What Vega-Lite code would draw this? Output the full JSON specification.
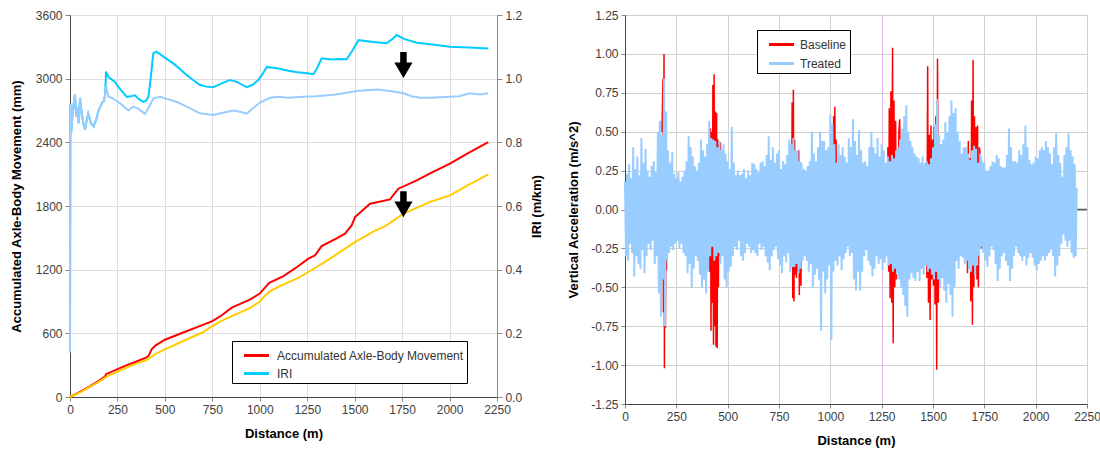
{
"$schema": "https://vega.github.io/schema/vega-lite/v6.json",
"background": "white",
"padding": {"left": 10, "top": 8, "right": 0, "bottom": 0},
"spacing": 23,
"config": {
  "font": "Liberation Sans",
  "view": {"stroke": null},
  "axis": {"labelFont": "Liberation Sans", "labelFontSize": 12, "labelColor": "#404040", "titleFont": "Liberation Sans", "titleFontSize": 13, "titleFontWeight": "bold", "titleColor": "#000", "gridColor": "#e2dce2", "tickColor": "#888", "domainColor": "#444", "tickSize": 4, "labelPadding": 3, "labelFlush": false, "labelOverlap": false}
},
"resolve": {"scale": {"color": "independent"}, "legend": {"color": "independent"}},
"datasets": {
  "accRed": [{"d":0,"v":0},{"d":50,"v":45},{"d":100,"v":95},{"d":150,"v":150},{"d":185,"v":195},{"d":190,"v":215},{"d":250,"v":262},{"d":300,"v":300},{"d":350,"v":335},{"d":400,"v":370},{"d":415,"v":390},{"d":430,"v":450},{"d":450,"v":485},{"d":500,"v":540},{"d":600,"v":610},{"d":700,"v":680},{"d":750,"v":715},{"d":800,"v":770},{"d":850,"v":840},{"d":900,"v":880},{"d":950,"v":920},{"d":1000,"v":975},{"d":1050,"v":1075},{"d":1125,"v":1140},{"d":1200,"v":1230},{"d":1256,"v":1304},{"d":1291,"v":1335},{"d":1326,"v":1422},{"d":1400,"v":1490},{"d":1449,"v":1539},{"d":1484,"v":1617},{"d":1502,"v":1696},{"d":1581,"v":1822},{"d":1686,"v":1862},{"d":1730,"v":1963},{"d":1827,"v":2041},{"d":1900,"v":2110},{"d":2002,"v":2199},{"d":2100,"v":2300},{"d":2204,"v":2402}],
  "accYel": [{"d":0,"v":0},{"d":50,"v":40},{"d":100,"v":90},{"d":150,"v":140},{"d":200,"v":200},{"d":250,"v":236},{"d":300,"v":280},{"d":350,"v":315},{"d":400,"v":346},{"d":450,"v":405},{"d":500,"v":449},{"d":600,"v":530},{"d":700,"v":610},{"d":750,"v":669},{"d":800,"v":720},{"d":900,"v":800},{"d":950,"v":840},{"d":1000,"v":900},{"d":1030,"v":960},{"d":1054,"v":995},{"d":1100,"v":1040},{"d":1200,"v":1120},{"d":1256,"v":1178},{"d":1350,"v":1280},{"d":1400,"v":1340},{"d":1502,"v":1460},{"d":1600,"v":1560},{"d":1668,"v":1617},{"d":1757,"v":1728},{"d":1836,"v":1790},{"d":1900,"v":1840},{"d":2002,"v":1900},{"d":2100,"v":2000},{"d":2204,"v":2098}],
  "arrows": [{"d":1757,"v":3128},{"d":1757,"v":1817}],
  "iriBlue": [{"d":0,"v":0.14},{"d":2,"v":0.92},{"d":6,"v":0.83},{"d":15,"v":0.9},{"d":26,"v":0.95},{"d":33,"v":0.88},{"d":39,"v":0.91},{"d":46,"v":0.86},{"d":53,"v":0.94},{"d":60,"v":0.9},{"d":70,"v":0.86},{"d":79,"v":0.84},{"d":88,"v":0.87},{"d":96,"v":0.89},{"d":110,"v":0.86},{"d":125,"v":0.85},{"d":140,"v":0.875},{"d":150,"v":0.9},{"d":158,"v":0.91},{"d":170,"v":0.925},{"d":179,"v":0.93},{"d":185,"v":0.95},{"d":190,"v":0.977},{"d":202,"v":0.943},{"d":220,"v":0.94},{"d":237,"v":0.933},{"d":270,"v":0.92},{"d":307,"v":0.9},{"d":333,"v":0.912},{"d":360,"v":0.905},{"d":395,"v":0.89},{"d":420,"v":0.915},{"d":439,"v":0.938},{"d":474,"v":0.943},{"d":520,"v":0.935},{"d":570,"v":0.925},{"d":615,"v":0.912},{"d":685,"v":0.891},{"d":755,"v":0.886},{"d":800,"v":0.892},{"d":861,"v":0.9},{"d":900,"v":0.895},{"d":931,"v":0.89},{"d":960,"v":0.905},{"d":1001,"v":0.925},{"d":1054,"v":0.94},{"d":1098,"v":0.943},{"d":1150,"v":0.94},{"d":1229,"v":0.943},{"d":1300,"v":0.945},{"d":1400,"v":0.95},{"d":1520,"v":0.962},{"d":1625,"v":0.966},{"d":1700,"v":0.96},{"d":1757,"v":0.954},{"d":1800,"v":0.945},{"d":1845,"v":0.94},{"d":1900,"v":0.94},{"d":2002,"v":0.943},{"d":2050,"v":0.945},{"d":2108,"v":0.954},{"d":2160,"v":0.95},{"d":2204,"v":0.954}],
  "iriCyan": [{"d":0,"v":0.14},{"d":2,"v":0.92},{"d":6,"v":0.83},{"d":15,"v":0.9},{"d":26,"v":0.95},{"d":33,"v":0.88},{"d":39,"v":0.91},{"d":46,"v":0.86},{"d":53,"v":0.94},{"d":60,"v":0.9},{"d":70,"v":0.86},{"d":79,"v":0.84},{"d":88,"v":0.87},{"d":96,"v":0.89},{"d":110,"v":0.86},{"d":125,"v":0.85},{"d":140,"v":0.875},{"d":150,"v":0.9},{"d":158,"v":0.91},{"d":170,"v":0.925},{"d":179,"v":0.93},{"d":185,"v":0.95},{"d":190,"v":1.022},{"d":202,"v":1.006},{"d":237,"v":0.99},{"d":260,"v":0.97},{"d":299,"v":0.943},{"d":320,"v":0.945},{"d":342,"v":0.948},{"d":365,"v":0.935},{"d":386,"v":0.927},{"d":400,"v":0.93},{"d":413,"v":0.943},{"d":425,"v":1.0},{"d":439,"v":1.08},{"d":456,"v":1.085},{"d":500,"v":1.066},{"d":544,"v":1.048},{"d":580,"v":1.03},{"d":615,"v":1.011},{"d":650,"v":0.995},{"d":685,"v":0.98},{"d":720,"v":0.975},{"d":755,"v":0.973},{"d":800,"v":0.985},{"d":843,"v":0.996},{"d":880,"v":0.99},{"d":931,"v":0.973},{"d":960,"v":0.98},{"d":993,"v":0.996},{"d":1015,"v":1.015},{"d":1037,"v":1.037},{"d":1098,"v":1.032},{"d":1150,"v":1.025},{"d":1200,"v":1.02},{"d":1250,"v":1.017},{"d":1282,"v":1.014},{"d":1300,"v":1.03},{"d":1326,"v":1.064},{"d":1380,"v":1.06},{"d":1420,"v":1.062},{"d":1458,"v":1.061},{"d":1490,"v":1.09},{"d":1520,"v":1.121},{"d":1600,"v":1.115},{"d":1668,"v":1.111},{"d":1700,"v":1.125},{"d":1721,"v":1.137},{"d":1760,"v":1.125},{"d":1827,"v":1.113},{"d":1900,"v":1.108},{"d":2002,"v":1.1},{"d":2100,"v":1.098},{"d":2204,"v":1.095}],
  "base": [
    {"g":1,"d":180,"v":0.5},{"g":1,"d":185,"v":0.84},{"g":1,"d":187,"v":-0.66},{"g":1,"d":190,"v":1.0},{"g":1,"d":192,"v":-1.02},{"g":1,"d":195,"v":0.62},{"g":1,"d":197,"v":-0.76},{"g":1,"d":200,"v":0.31},{"g":1,"d":202,"v":-0.39},{"g":1,"d":205,"v":0.2},{"g":1,"d":207,"v":-0.25},
    {"g":2,"d":410,"v":0.45},{"g":2,"d":413,"v":-0.4},{"g":2,"d":416,"v":0.52},{"g":2,"d":419,"v":-0.78},{"g":2,"d":422,"v":0.5},{"g":2,"d":425,"v":-0.6},{"g":2,"d":428,"v":0.8},{"g":2,"d":431,"v":-0.87},{"g":2,"d":434,"v":0.87},{"g":2,"d":437,"v":-0.75},{"g":2,"d":440,"v":0.63},{"g":2,"d":443,"v":-0.88},{"g":2,"d":446,"v":0.62},{"g":2,"d":449,"v":-0.89},{"g":2,"d":452,"v":0.45},{"g":2,"d":455,"v":-0.5},{"g":2,"d":458,"v":0.42},{"g":2,"d":461,"v":-0.3},{"g":2,"d":465,"v":0.43},{"g":2,"d":470,"v":-0.25},
    {"g":3,"d":808,"v":0.35},{"g":3,"d":811,"v":-0.28},{"g":3,"d":814,"v":0.69},{"g":3,"d":817,"v":-0.57},{"g":3,"d":820,"v":0.77},{"g":3,"d":823,"v":-0.59},{"g":3,"d":826,"v":0.45},{"g":3,"d":829,"v":-0.42},{"g":3,"d":832,"v":0.34},{"g":3,"d":835,"v":-0.44},{"g":3,"d":838,"v":0.3},{"g":3,"d":842,"v":-0.4},{"g":3,"d":846,"v":0.38},{"g":3,"d":849,"v":-0.55},{"g":3,"d":853,"v":0.3},{"g":3,"d":857,"v":-0.49},{"g":3,"d":861,"v":0.25},
    {"g":4,"d":1010,"v":0.4},{"g":4,"d":1013,"v":-0.3},{"g":4,"d":1016,"v":0.6},{"g":4,"d":1019,"v":-0.28},{"g":4,"d":1022,"v":0.66},{"g":4,"d":1025,"v":-0.31},{"g":4,"d":1028,"v":0.45},{"g":4,"d":1031,"v":-0.3},{"g":4,"d":1034,"v":0.3},
    {"g":5,"d":1280,"v":0.4},{"g":5,"d":1284,"v":-0.4},{"g":5,"d":1287,"v":0.65},{"g":5,"d":1291,"v":-0.57},{"g":5,"d":1295,"v":0.76},{"g":5,"d":1299,"v":-0.6},{"g":5,"d":1303,"v":1.04},{"g":5,"d":1306,"v":-0.86},{"g":5,"d":1310,"v":0.7},{"g":5,"d":1314,"v":-0.5},{"g":5,"d":1318,"v":0.57},{"g":5,"d":1322,"v":-0.45},{"g":5,"d":1326,"v":0.36},{"g":5,"d":1330,"v":-0.31},{"g":5,"d":1334,"v":0.5},{"g":5,"d":1338,"v":0.58},{"g":5,"d":1341,"v":-0.35},{"g":5,"d":1345,"v":0.3},{"g":5,"d":1348,"v":-0.27},
    {"g":6,"d":1466,"v":0.3},{"g":6,"d":1470,"v":-0.44},{"g":6,"d":1474,"v":0.92},{"g":6,"d":1478,"v":-0.6},{"g":6,"d":1482,"v":0.48},{"g":6,"d":1486,"v":-0.71},{"g":6,"d":1490,"v":0.54},{"g":6,"d":1494,"v":-0.45},{"g":6,"d":1498,"v":0.45},{"g":6,"d":1502,"v":-0.49},{"g":6,"d":1506,"v":0.53},{"g":6,"d":1510,"v":-0.61},{"g":6,"d":1514,"v":0.6},{"g":6,"d":1518,"v":-1.03},{"g":6,"d":1522,"v":0.97},{"g":6,"d":1526,"v":-0.6},{"g":6,"d":1530,"v":0.4},{"g":6,"d":1534,"v":-0.31},{"g":6,"d":1538,"v":0.3},{"g":6,"d":1542,"v":-0.28},{"g":6,"d":1547,"v":0.3},{"g":6,"d":1552,"v":-0.24},
    {"g":7,"d":1664,"v":0.3},{"g":7,"d":1668,"v":-0.41},{"g":7,"d":1672,"v":0.44},{"g":7,"d":1676,"v":-0.35},{"g":7,"d":1680,"v":0.33},{"g":7,"d":1684,"v":-0.59},{"g":7,"d":1688,"v":0.7},{"g":7,"d":1692,"v":-0.74},{"g":7,"d":1695,"v":0.96},{"g":7,"d":1699,"v":-0.5},{"g":7,"d":1702,"v":0.6},{"g":7,"d":1706,"v":-0.4},{"g":7,"d":1710,"v":0.53},{"g":7,"d":1714,"v":-0.45},{"g":7,"d":1717,"v":0.54},{"g":7,"d":1721,"v":-0.5},{"g":7,"d":1726,"v":0.4},{"g":7,"d":1732,"v":0.32},{"g":7,"d":1736,"v":-0.25}
  ],
  "treat": [
    {"d":0,"v":0.18},{"d":5,"v":-0.3},{"d":10,"v":0.23},{"d":15,"v":-0.33},{"d":20,"v":0.29},{"d":25,"v":-0.22},{"d":30,"v":0.2},{"d":35,"v":-0.28},{"d":40,"v":0.4},{"d":45,"v":-0.43},{"d":50,"v":0.26},{"d":55,"v":-0.3},{"d":60,"v":0.34},{"d":65,"v":-0.35},{"d":70,"v":0.22},{"d":75,"v":-0.38},{"d":80,"v":0.46},{"d":85,"v":-0.26},{"d":90,"v":0.3},{"d":95,"v":-0.41},
    {"d":100,"v":0.39},{"d":105,"v":-0.3},{"d":110,"v":0.25},{"d":115,"v":-0.22},{"d":120,"v":0.21},{"d":125,"v":-0.26},{"d":130,"v":0.28},{"d":135,"v":-0.2},{"d":140,"v":0.31},{"d":145,"v":-0.35},{"d":150,"v":0.24},{"d":155,"v":-0.3},{"d":160,"v":0.5},{"d":165,"v":-0.54},{"d":170,"v":0.57},{"d":175,"v":-0.69},{"d":180,"v":0.48},{"d":185,"v":-0.45},{"d":190,"v":0.84},{"d":195,"v":-0.75},
    {"d":200,"v":0.63},{"d":205,"v":-0.33},{"d":210,"v":0.38},{"d":215,"v":-0.28},{"d":220,"v":0.3},{"d":225,"v":-0.24},{"d":230,"v":0.37},{"d":235,"v":-0.26},{"d":240,"v":0.23},{"d":245,"v":-0.22},{"d":250,"v":0.2},{"d":255,"v":-0.2},{"d":260,"v":0.24},{"d":265,"v":-0.25},{"d":270,"v":0.18},{"d":275,"v":-0.22},{"d":280,"v":0.21},{"d":285,"v":-0.28},{"d":290,"v":0.25},{"d":295,"v":-0.3},
    {"d":300,"v":0.31},{"d":305,"v":-0.41},{"d":310,"v":0.47},{"d":315,"v":-0.35},{"d":320,"v":0.4},{"d":325,"v":-0.5},{"d":330,"v":0.34},{"d":335,"v":-0.38},{"d":340,"v":0.28},{"d":345,"v":-0.3},{"d":350,"v":0.25},{"d":355,"v":-0.33},{"d":360,"v":0.3},{"d":365,"v":-0.42},{"d":370,"v":0.45},{"d":375,"v":-0.5},{"d":380,"v":0.38},{"d":385,"v":-0.45},{"d":390,"v":0.34},{"d":395,"v":-0.54},
    {"d":400,"v":0.42},{"d":405,"v":-0.4},{"d":410,"v":0.57},{"d":415,"v":-0.3},{"d":420,"v":0.46},{"d":425,"v":-0.24},{"d":430,"v":0.45},{"d":435,"v":-0.33},{"d":440,"v":0.44},{"d":445,"v":-0.3},{"d":450,"v":0.4},{"d":455,"v":-0.28},{"d":460,"v":0.44},{"d":465,"v":-0.35},{"d":470,"v":0.38},{"d":475,"v":-0.3},{"d":480,"v":0.42},{"d":485,"v":-0.45},{"d":490,"v":0.36},{"d":495,"v":-0.5},
    {"d":500,"v":0.31},{"d":505,"v":-0.4},{"d":510,"v":0.26},{"d":515,"v":-0.37},{"d":520,"v":0.53},{"d":525,"v":-0.3},{"d":530,"v":0.3},{"d":535,"v":-0.24},{"d":540,"v":0.22},{"d":545,"v":-0.26},{"d":550,"v":0.25},{"d":555,"v":-0.2},{"d":560,"v":0.22},{"d":565,"v":-0.3},{"d":570,"v":0.23},{"d":575,"v":-0.33},{"d":580,"v":0.26},{"d":585,"v":-0.28},{"d":590,"v":0.2},{"d":595,"v":-0.22},
    {"d":600,"v":0.25},{"d":605,"v":-0.24},{"d":610,"v":0.22},{"d":615,"v":-0.28},{"d":620,"v":0.3},{"d":625,"v":-0.26},{"d":630,"v":0.29},{"d":635,"v":-0.28},{"d":640,"v":0.26},{"d":645,"v":-0.3},{"d":650,"v":0.24},{"d":655,"v":-0.22},{"d":660,"v":0.3},{"d":665,"v":-0.26},{"d":670,"v":0.31},{"d":675,"v":-0.24},{"d":680,"v":0.28},{"d":685,"v":-0.3},{"d":690,"v":0.35},{"d":695,"v":-0.34},
    {"d":700,"v":0.47},{"d":705,"v":-0.39},{"d":710,"v":0.32},{"d":715,"v":-0.3},{"d":720,"v":0.4},{"d":725,"v":-0.26},{"d":730,"v":0.3},{"d":735,"v":-0.24},{"d":740,"v":0.36},{"d":745,"v":-0.32},{"d":750,"v":0.38},{"d":755,"v":-0.36},{"d":760,"v":0.26},{"d":765,"v":-0.41},{"d":770,"v":0.31},{"d":775,"v":-0.3},{"d":780,"v":0.29},{"d":785,"v":-0.34},{"d":790,"v":0.35},{"d":795,"v":-0.28},
    {"d":800,"v":0.45},{"d":805,"v":-0.4},{"d":810,"v":0.42},{"d":815,"v":-0.37},{"d":820,"v":0.46},{"d":825,"v":-0.37},{"d":830,"v":0.38},{"d":835,"v":-0.35},{"d":840,"v":0.38},{"d":845,"v":-0.41},{"d":850,"v":0.31},{"d":855,"v":-0.38},{"d":860,"v":0.3},{"d":865,"v":-0.33},{"d":870,"v":0.26},{"d":875,"v":-0.3},{"d":880,"v":0.25},{"d":885,"v":-0.33},{"d":890,"v":0.28},{"d":895,"v":-0.4},
    {"d":900,"v":0.31},{"d":905,"v":-0.35},{"d":910,"v":0.5},{"d":915,"v":-0.5},{"d":920,"v":0.36},{"d":925,"v":-0.42},{"d":930,"v":0.31},{"d":935,"v":-0.38},{"d":940,"v":0.4},{"d":945,"v":-0.45},{"d":950,"v":0.5},{"d":955,"v":-0.78},{"d":960,"v":0.44},{"d":965,"v":-0.4},{"d":970,"v":0.44},{"d":975,"v":-0.54},{"d":980,"v":0.38},{"d":985,"v":-0.45},{"d":990,"v":0.4},{"d":995,"v":-0.36},
    {"d":1000,"v":0.61},{"d":1005,"v":-0.84},{"d":1010,"v":0.55},{"d":1015,"v":-0.4},{"d":1020,"v":0.42},{"d":1025,"v":-0.33},{"d":1030,"v":0.3},{"d":1035,"v":-0.36},{"d":1040,"v":0.42},{"d":1045,"v":-0.3},{"d":1050,"v":0.35},{"d":1055,"v":-0.39},{"d":1060,"v":0.4},{"d":1065,"v":-0.32},{"d":1070,"v":0.34},{"d":1075,"v":-0.28},{"d":1080,"v":0.3},{"d":1085,"v":-0.24},{"d":1090,"v":0.46},{"d":1095,"v":-0.3},
    {"d":1100,"v":0.4},{"d":1105,"v":-0.28},{"d":1110,"v":0.58},{"d":1115,"v":-0.45},{"d":1120,"v":0.44},{"d":1125,"v":-0.52},{"d":1130,"v":0.35},{"d":1135,"v":-0.4},{"d":1140,"v":0.51},{"d":1145,"v":-0.52},{"d":1150,"v":0.38},{"d":1155,"v":-0.4},{"d":1160,"v":0.3},{"d":1165,"v":-0.3},{"d":1170,"v":0.31},{"d":1175,"v":-0.26},{"d":1180,"v":0.28},{"d":1185,"v":-0.33},{"d":1190,"v":0.4},{"d":1195,"v":-0.36},
    {"d":1200,"v":0.5},{"d":1205,"v":-0.43},{"d":1210,"v":0.4},{"d":1215,"v":-0.38},{"d":1220,"v":0.36},{"d":1225,"v":-0.3},{"d":1230,"v":0.46},{"d":1235,"v":-0.35},{"d":1240,"v":0.34},{"d":1245,"v":-0.32},{"d":1250,"v":0.42},{"d":1255,"v":-0.39},{"d":1260,"v":0.38},{"d":1265,"v":-0.34},{"d":1270,"v":0.3},{"d":1275,"v":-0.3},{"d":1280,"v":0.34},{"d":1285,"v":-0.36},{"d":1290,"v":0.31},{"d":1295,"v":-0.35},
    {"d":1300,"v":0.35},{"d":1305,"v":-0.4},{"d":1310,"v":0.33},{"d":1315,"v":-0.38},{"d":1320,"v":0.38},{"d":1325,"v":-0.42},{"d":1330,"v":0.4},{"d":1335,"v":-0.45},{"d":1340,"v":0.45},{"d":1345,"v":-0.5},{"d":1350,"v":0.52},{"d":1355,"v":-0.55},{"d":1360,"v":0.6},{"d":1365,"v":-0.62},{"d":1370,"v":0.67},{"d":1375,"v":-0.69},{"d":1380,"v":0.5},{"d":1385,"v":-0.45},{"d":1390,"v":0.44},{"d":1395,"v":-0.41},
    {"d":1400,"v":0.4},{"d":1405,"v":-0.44},{"d":1410,"v":0.36},{"d":1415,"v":-0.46},{"d":1420,"v":0.34},{"d":1425,"v":-0.4},{"d":1430,"v":0.33},{"d":1435,"v":-0.46},{"d":1440,"v":0.3},{"d":1445,"v":-0.38},{"d":1450,"v":0.34},{"d":1455,"v":-0.42},{"d":1460,"v":0.29},{"d":1465,"v":-0.36},{"d":1470,"v":0.31},{"d":1475,"v":-0.4},{"d":1480,"v":0.29},{"d":1485,"v":-0.38},{"d":1490,"v":0.33},{"d":1495,"v":-0.42},
    {"d":1500,"v":0.4},{"d":1505,"v":-0.45},{"d":1510,"v":0.55},{"d":1515,"v":-0.4},{"d":1520,"v":0.71},{"d":1525,"v":-0.45},{"d":1530,"v":0.48},{"d":1535,"v":-0.5},{"d":1540,"v":0.42},{"d":1545,"v":-0.44},{"d":1550,"v":0.45},{"d":1555,"v":-0.52},{"d":1560,"v":0.56},{"d":1565,"v":-0.6},{"d":1570,"v":0.5},{"d":1575,"v":-0.48},{"d":1580,"v":0.6},{"d":1585,"v":-0.55},{"d":1590,"v":0.7},{"d":1595,"v":-0.69},
    {"d":1600,"v":0.62},{"d":1605,"v":-0.5},{"d":1610,"v":0.65},{"d":1615,"v":-0.33},{"d":1620,"v":0.5},{"d":1625,"v":-0.38},{"d":1630,"v":0.44},{"d":1635,"v":-0.3},{"d":1640,"v":0.36},{"d":1645,"v":-0.31},{"d":1650,"v":0.4},{"d":1655,"v":-0.35},{"d":1660,"v":0.4},{"d":1665,"v":-0.33},{"d":1670,"v":0.36},{"d":1675,"v":-0.38},{"d":1680,"v":0.32},{"d":1685,"v":-0.4},{"d":1690,"v":0.38},{"d":1695,"v":-0.36},
    {"d":1700,"v":0.41},{"d":1705,"v":-0.42},{"d":1710,"v":0.39},{"d":1715,"v":-0.36},{"d":1720,"v":0.3},{"d":1725,"v":-0.3},{"d":1730,"v":0.36},{"d":1735,"v":-0.24},{"d":1740,"v":0.31},{"d":1745,"v":-0.28},{"d":1750,"v":0.3},{"d":1755,"v":-0.33},{"d":1760,"v":0.25},{"d":1765,"v":-0.37},{"d":1770,"v":0.25},{"d":1775,"v":-0.3},{"d":1780,"v":0.28},{"d":1785,"v":-0.24},{"d":1790,"v":0.31},{"d":1795,"v":-0.26},
    {"d":1800,"v":0.3},{"d":1805,"v":-0.35},{"d":1810,"v":0.35},{"d":1815,"v":-0.46},{"d":1820,"v":0.33},{"d":1825,"v":-0.38},{"d":1830,"v":0.28},{"d":1835,"v":-0.3},{"d":1840,"v":0.27},{"d":1845,"v":-0.28},{"d":1850,"v":0.27},{"d":1855,"v":-0.33},{"d":1860,"v":0.35},{"d":1865,"v":-0.36},{"d":1870,"v":0.52},{"d":1875,"v":-0.46},{"d":1880,"v":0.4},{"d":1885,"v":-0.38},{"d":1890,"v":0.31},{"d":1895,"v":-0.3},
    {"d":1900,"v":0.31},{"d":1905,"v":-0.24},{"d":1910,"v":0.3},{"d":1915,"v":-0.28},{"d":1920,"v":0.38},{"d":1925,"v":-0.3},{"d":1930,"v":0.35},{"d":1935,"v":-0.33},{"d":1940,"v":0.42},{"d":1945,"v":-0.3},{"d":1950,"v":0.54},{"d":1955,"v":-0.36},{"d":1960,"v":0.4},{"d":1965,"v":-0.31},{"d":1970,"v":0.32},{"d":1975,"v":-0.28},{"d":1980,"v":0.29},{"d":1985,"v":-0.31},{"d":1990,"v":0.3},{"d":1995,"v":-0.36},
    {"d":2000,"v":0.34},{"d":2005,"v":-0.39},{"d":2010,"v":0.33},{"d":2015,"v":-0.35},{"d":2020,"v":0.38},{"d":2025,"v":-0.33},{"d":2030,"v":0.4},{"d":2035,"v":-0.3},{"d":2040,"v":0.38},{"d":2045,"v":-0.33},{"d":2050,"v":0.44},{"d":2055,"v":-0.3},{"d":2060,"v":0.4},{"d":2065,"v":-0.28},{"d":2070,"v":0.36},{"d":2075,"v":-0.26},{"d":2080,"v":0.29},{"d":2085,"v":-0.3},{"d":2090,"v":0.4},{"d":2095,"v":-0.43},
    {"d":2100,"v":0.49},{"d":2105,"v":-0.36},{"d":2110,"v":0.35},{"d":2115,"v":-0.3},{"d":2120,"v":0.3},{"d":2125,"v":-0.22},{"d":2130,"v":0.21},{"d":2135,"v":-0.16},{"d":2140,"v":0.35},{"d":2145,"v":-0.2},{"d":2150,"v":0.4},{"d":2155,"v":-0.24},{"d":2160,"v":0.49},{"d":2165,"v":-0.2},{"d":2170,"v":0.38},{"d":2175,"v":-0.28},{"d":2180,"v":0.34},{"d":2185,"v":-0.31},{"d":2190,"v":0.29},{"d":2195,"v":-0.3},{"d":2200,"v":0.14}
  ],
  "zero": [{"z":0}]
},
"hconcat": [
  {
    "width": 427, "height": 382,
    "layer": [
      {"layer": [
        {"data": {"name": "accRed"}, "mark": {"type": "line", "strokeWidth": 2},
         "encoding": {
           "x": {"field": "d", "type": "quantitative", "scale": {"domain": [0, 2250], "nice": false}, "axis": {"title": "Distance (m)", "values": [0,250,500,750,1000,1250,1500,1750,2000,2250], "tickCount": 20, "format": "d", "grid": true, "titlePadding": 12}},
           "y": {"field": "v", "type": "quantitative", "scale": {"domain": [0, 3600], "nice": false}, "axis": {"title": "Accumulated Axle-Body Movement (mm)", "orient": "left", "values": [0,600,1200,1800,2400,3000,3600], "tickCount": 20, "format": "d", "grid": true, "titlePadding": 12, "tickSize": 5}},
           "color": {"datum": "Accumulated Axle-Body Movement", "type": "nominal", "scale": {"domain": ["Accumulated Axle-Body Movement", "IRI"], "range": ["#ff0000", "#00ccff"]},
             "legend": {"title": null, "orient": "none", "legendX": 162, "legendY": 326, "symbolType": "M-1.25,0L1.25,0", "symbolStrokeWidth": 3, "symbolSize": 400, "symbolOffset": 10, "strokeColor": "#000", "fillColor": "#fff", "padding": 3, "labelOffset": 9, "labelFontSize": 12, "labelColor": "#333", "rowPadding": 0, "labelLimit": 400}}
         }},
        {"data": {"name": "accYel"}, "mark": {"type": "line", "strokeWidth": 2, "color": "#ffcc00"},
         "encoding": {"x": {"field": "d", "type": "quantitative"}, "y": {"field": "v", "type": "quantitative"}}},
        {"data": {"name": "arrows"}, "mark": {"type": "point", "shape": "M-0.25,-1L0.25,-1L0.25,-0.2L0.7,-0.2L0,1L-0.7,-0.2L-0.25,-0.2Z", "size": 676, "filled": true, "color": "#000", "opacity": 1, "strokeWidth": 0},
         "encoding": {"x": {"field": "d", "type": "quantitative"}, "y": {"field": "v", "type": "quantitative"}}}
      ]},
      {"layer": [
        {"data": {"name": "iriCyan"}, "mark": {"type": "line", "strokeWidth": 2},
         "encoding": {
           "x": {"field": "d", "type": "quantitative"},
           "y": {"field": "v", "type": "quantitative", "scale": {"domain": [0, 1.2], "nice": false}, "axis": {"title": "IRI (m/km)", "orient": "right", "titleAngle": 270, "titleBaseline": "top", "values": [0,0.2,0.4,0.6,0.8,1.0,1.2], "tickCount": 20, "format": ".1f", "grid": false, "domainColor": "#888", "tickSize": 5, "titlePadding": 9}},
           "color": {"datum": "IRI", "type": "nominal"}
         }},
        {"data": {"name": "iriBlue"}, "mark": {"type": "line", "strokeWidth": 2, "color": "#99ccff"},
         "encoding": {"x": {"field": "d", "type": "quantitative"}, "y": {"field": "v", "type": "quantitative"}}}
      ]}
    ],
    "resolve": {"scale": {"y": "independent"}}
  },
  {
    "width": 462, "height": 389,
    "view": {"stroke": "#999"},
    "layer": [
      {"data": {"name": "zero"}, "mark": {"type": "rule", "color": "#555", "strokeWidth": 1.5},
       "encoding": {"y": {"field": "z", "type": "quantitative", "scale": {"domain": [-1.25, 1.25], "nice": false}, "axis": {"title": "Vertical Acceleration (m/s^2)", "values": [-1.25,-1,-0.75,-0.5,-0.25,0,0.25,0.5,0.75,1,1.25], "tickCount": 20, "labelExpr": "replace(format(datum.value, '.2f'), '\u2212', '-')", "grid": true, "gridColor": "#d0d0d0", "titlePadding": 10}}}},
      {"data": {"name": "base"}, "mark": {"type": "line", "strokeWidth": 1.5},
       "encoding": {
         "x": {"field": "d", "type": "quantitative", "scale": {"domain": [0, 2250], "nice": false}, "axis": {"title": "Distance (m)", "values": [0,250,500,750,1000,1250,1500,1750,2000,2250], "tickCount": 20, "format": "d", "grid": true, "gridColor": {"condition": {"test": "datum.value === 1250", "value": "#dcb8e6"}, "value": "#d0d0d0"}, "titlePadding": 12}},
         "y": {"field": "v", "type": "quantitative"},
         "detail": {"field": "g", "type": "nominal"},
         "color": {"datum": "Baseline", "type": "nominal", "scale": {"domain": ["Baseline", "Treated"], "range": ["#ff0000", "#99ccff"]},
           "legend": {"title": null, "orient": "none", "legendX": 132, "legendY": 15, "symbolType": "M-1.25,0L1.25,0", "symbolStrokeWidth": 3, "symbolSize": 400, "symbolOffset": 10, "strokeColor": "#000", "fillColor": "#fff", "padding": 3, "labelOffset": 7, "labelFontSize": 12, "labelColor": "#333", "rowPadding": 1}}
       }},
      {"data": {"name": "treat"}, "mark": {"type": "line", "strokeWidth": 2},
       "encoding": {
         "x": {"field": "d", "type": "quantitative"},
         "y": {"field": "v", "type": "quantitative"},
         "color": {"datum": "Treated", "type": "nominal"}
       }}
    ]
  }
]
}
